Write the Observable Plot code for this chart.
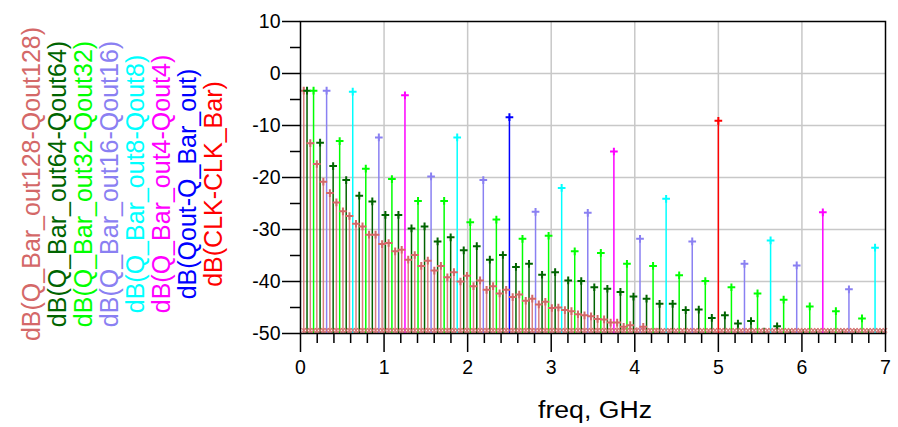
<!DOCTYPE html>
<html><head><meta charset="utf-8">
<script src="https://cdn.jsdelivr.net/npm/d3@7"></script>
<script src="https://cdn.jsdelivr.net/npm/@observablehq/plot@0.6"></script>
<style>
html,body{margin:0;padding:0;background:#fff;}
#chart{width:898px;height:427px;overflow:hidden;}
</style></head><body><div id="chart"></div>
<script>
// Legend labels / colours (legend order, drawn in this order)
const seriesNames = [
  "dB(Q_Bar_out128-Qout128)",
  "dB(Q_Bar_out64-Qout64)",
  "dB(Q_Bar_out32-Qout32)",
  "dB(Q_Bar_out16-Qout16)",
  "dB(Q_Bar_out8-Qout8)",
  "dB(Q_Bar_out4-Qout4)",
  "dB(Qout-Q_Bar_out)",
  "dB(CLK-CLK_Bar)"
];
const seriesColors = ["#d46868", "#006400", "#00ff00", "#8a80f2", "#00ffff", "#ff00ff", "#0000ff", "#ff0000"];
// fundamental frequency (GHz) of each signal; spectral lines sit at its odd harmonics
const fundamentals = [0.0390625, 0.078125, 0.15625, 0.3125, 0.625, 1.25, 2.5, 5];

// dB values of the odd harmonics (1st, 3rd, 5th, ...)
const dbOut128 = [-3.3,-13.4,-17.4,-20.8,-23.0,-24.8,-26.5,-27.4,-28.9,-29.4,
  -31.0,-31.0,-32.8,-32.6,-34.2,-33.9,-35.8,-34.9,-37.0,-36.0,
  -37.9,-37.0,-39.2,-38.2,-40.0,-38.9,-40.9,-39.8,-41.6,-40.9,
  -42.3,-41.6,-43.0,-42.5,-43.7,-43.3,-44.4,-43.9,-45.1,-45.0,
  -45.5,-45.7,-46.3,-46.5,-46.7,-47.2,-47.3,-47.9,-47.9,-48.7,
  -48.4,-48.9,-48.7,-49.1,-49.0,-49.3,-49.2,-49.3,-49.3,-49.3,
  -49.3,-49.3,-49.3,-49.3,-49.3,-49.3,-49.3,-49.3,-49.3,-49.3,
  -49.3,-49.3,-49.3,-49.3,-49.3,-49.3,-49.3,-49.3,-49.3,-49.3,
  -49.3,-49.3,-49.3,-49.3,-49.3,-49.3,-49.3,-49.3,-49.3,-49.3];
const dbOut64 = [-3.3,-13.3,-17.8,-20.5,-23.5,-24.6,-27.2,-27.2,-29.8,-29.4,
  -32.3,-31.5,-34.0,-33.2,-35.8,-34.9,-37.2,-36.6,-38.7,-38.2,
  -39.8,-39.9,-41.1,-41.4,-42.0,-42.9,-43.3,-44.3,-44.3,-45.5,
  -45.4,-47.0,-46.5,-48.1,-47.6,-49.0,-48.6,-49.3,-49.3,-49.3,
  -49.3,-49.3,-49.3,-49.3,-49.3];
const dbOut32 = [-3.3,-13.0,-18.3,-20.3,-24.5,-24.5,-28.6,-28.1,-31.8,-31.2,
  -34.2,-34.5,-36.6,-37.0,-38.8,-39.9,-41.1,-42.3,-43.5,-44.8,
  -45.7,-47.1];
const dbOut16 = [-3.3,-12.3,-19.8,-20.5,-26.6,-26.8,-31.8,-32.3,-36.6,-36.9,-41.5];
const dbOut8 = [-3.5,-12.3,-22.0,-24.1,-32.1,-33.5];
const dbOut4 = [-4.2,-15.0,-26.7];
const dbOut2 = [-8.4];
const dbClk = [-9.1];
const seriesValues = [dbOut128, dbOut64, dbOut32, dbOut16, dbOut8, dbOut4, dbOut2, dbClk];

// noise floor shown as a band of markers at every harmonic of the slowest signal
const floorDb = -49.4;

// axes
const xTicks = [0,1,2,3,4,5,6,7];
const xMinorTicks = [0.2,0.4,0.6,0.8,1.2,1.4,1.6,1.8,2.2,2.4,2.6,2.8,3.2,3.4,3.6,3.8,4.2,4.4,4.6,4.8,5.2,5.4,5.6,5.8,6.2,6.4,6.6,6.8];
const yTicks = [10,0,-10,-20,-30,-40,-50];
const yMinorTicks = [5,-5,-15,-25,-35,-45];
const xGrid = [1,2,3,4,5,6];
const yGrid = [0,-10,-20,-30,-40];
const xLabel = "freq, GHz";

const series = seriesNames.map((name, i) => ({
  name, color: seriesColors[i],
  rows: seriesValues[i].map((db, j) => ({f: fundamentals[i] * (2 * j + 1), db}))
}));
const floorRows = d3.range(1, 180).map(k => ({f: k * fundamentals[0], db: floorDb}));

const marks = [
  Plot.gridX(xGrid, {stroke: "#c8c8c8", strokeOpacity: 1, strokeWidth: 1.5}),
  Plot.gridY(yGrid, {stroke: "#c8c8c8", strokeOpacity: 1, strokeWidth: 1.5})
];
series.forEach(s => {
  marks.push(Plot.ruleX(s.rows, {x: "f", y1: -50, y2: "db", stroke: s.color, strokeWidth: 1.5, strokeOpacity: s.name.includes("128") ? 0.85 : 1}));
});
series.forEach(s => {
  marks.push(Plot.dot(s.rows.filter(d => d.db > -48.8), {x: "f", y: "db", symbol: "plus", r: 2.6, stroke: s.color, strokeWidth: 2}));
});
marks.push(Plot.dot(floorRows, {x: "f", y: "db", symbol: "times", r: 2.2, stroke: seriesColors[0], strokeWidth: 1.3, strokeOpacity: 0.8}));
marks.push(
  Plot.frame({stroke: "black", strokeWidth: 1.5}),
  Plot.axisY(yTicks, {tickSize: 18, tickPadding: 2, fontSize: 19.5, stroke: "black", strokeWidth: 1.5, label: null, tickFormat: d => String(d)}),
  Plot.axisY(yMinorTicks, {tickSize: 10, tickFormat: () => "", stroke: "black", strokeWidth: 1.5, label: null}),
  Plot.axisX(xTicks, {tickSize: 19, tickPadding: 8, fontSize: 19.5, stroke: "black", strokeWidth: 1.5, label: null, tickFormat: d => String(d)}),
  Plot.axisX(xMinorTicks, {tickSize: 10, tickFormat: () => "", stroke: "black", strokeWidth: 1.5, label: null})
);

const plot = Plot.plot({
  width: 898, height: 427,
  marginLeft: 300, marginRight: 13, marginTop: 21, marginBottom: 94,
  x: {domain: [0, 7]},
  y: {domain: [-50, 10]},
  style: {fontFamily: "'Liberation Sans', Arial, sans-serif", background: "white", color: "black"},
  marks
});
document.getElementById("chart").appendChild(plot);

const svg = d3.select(plot);
svg.append("text")
  .attr("x", 595).attr("y", 418)
  .attr("text-anchor", "middle")
  .attr("font-size", 23)
  .attr("textLength", 114).attr("lengthAdjust", "spacingAndGlyphs")
  .attr("fill", "black")
  .text(xLabel);
const leg = svg.append("g").attr("font-size", 25);
seriesNames.forEach((name, i) => {
  leg.append("text")
    .attr("transform", `translate(${40 + 26 * i},184) rotate(-90)`)
    .attr("text-anchor", "middle")
    .attr("fill", seriesColors[i])
    .text(name);
});
</script>
</body></html>
